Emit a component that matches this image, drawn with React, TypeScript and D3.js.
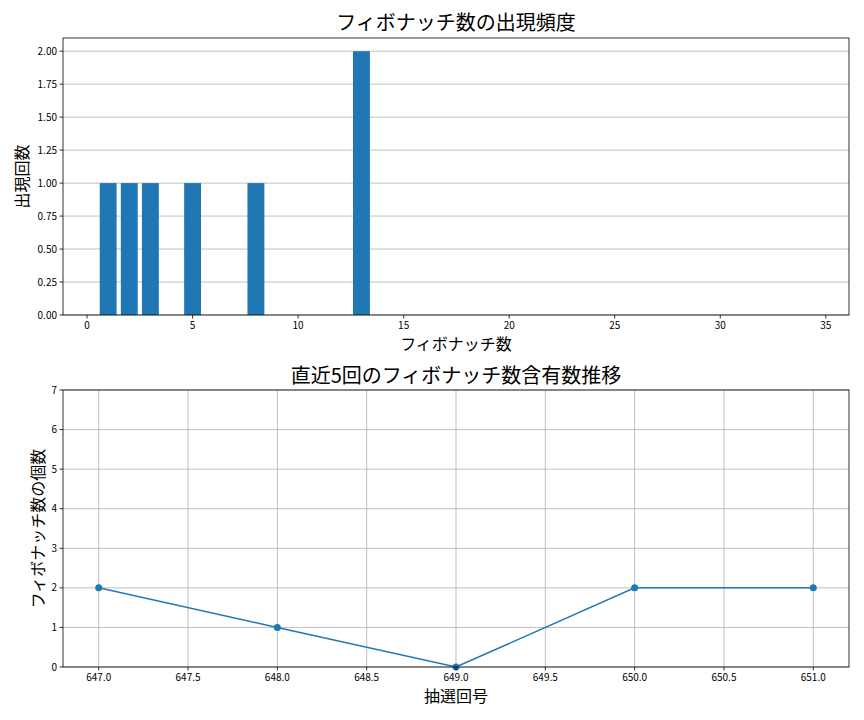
import * as d3 from "d3";

const fibNumbers = [1, 2, 3, 5, 8, 13, 21, 34];
const fibCounts = [1, 1, 1, 1, 1, 2, 0, 0];
const barTicksX = [0, 5, 10, 15, 20, 25, 30, 35];
const barTicksY = [0, 0.25, 0.5, 0.75, 1.0, 1.25, 1.5, 1.75, 2.0];

const rounds = [647, 648, 649, 650, 651];
const fibPerRound = [2, 1, 0, 2, 2];
const lineTicksX = [647.0, 647.5, 648.0, 648.5, 649.0, 649.5, 650.0, 650.5, 651.0];
const lineTicksY = [0, 1, 2, 3, 4, 5, 6, 7];

const FONT = "'Noto Sans CJK JP', 'Noto Sans', sans-serif";
const BLUE = "#1f77b4";
const GRID = "#b0b0b0";

const W = 864;
const H = 720;

const App = () => {
  const left = 63;
  const right = 849;

  // top chart
  const top1 = 38;
  const bottom1 = 315;
  const x1 = d3.scaleLinear().domain([-1.14, 36.1]).range([left, right]);
  const y1 = d3.scaleLinear().domain([0, 2.1]).range([bottom1, top1]);
  const barW = x1(0.8) - x1(0);

  // bottom chart
  const top2 = 390;
  const bottom2 = 667;
  const x2 = d3.scaleLinear().domain([646.8, 651.2]).range([left, right]);
  const y2 = d3.scaleLinear().domain([0, 7]).range([bottom2, top2]);
  const line = d3
    .line<number>()
    .x((_, i) => x2(rounds[i]))
    .y((d) => y2(d));

  return (
    <svg width={W} height={H} style={{ position: "absolute", left: 0, top: 0, background: "#fff" }} fontFamily={FONT}>
      <rect width={W} height={H} fill="#fff" />

      {/* top: bar chart */}
      {barTicksY.map((t) => (
        <line key={"g1" + t} x1={left} x2={right} y1={y1(t)} y2={y1(t)} stroke={GRID} strokeWidth={0.8} />
      ))}
      {fibNumbers.map((n, i) => (
        <rect
          key={"b" + n}
          x={x1(n) - barW / 2}
          y={y1(fibCounts[i])}
          width={barW}
          height={bottom1 - y1(fibCounts[i])}
          fill={BLUE}
        />
      ))}
      <rect x={left} y={top1} width={right - left} height={bottom1 - top1} fill="none" stroke="#000" strokeWidth={0.8} />
      {barTicksY.map((t) => (
        <g key={"ty1" + t}>
          <line x1={left - 3.5} x2={left} y1={y1(t)} y2={y1(t)} stroke="#000" strokeWidth={0.8} />
          <text x={left - 6} y={y1(t)} dy="0.35em" textAnchor="end" fontSize={10}>
            {t.toFixed(2)}
          </text>
        </g>
      ))}
      {barTicksX.map((t) => (
        <g key={"tx1" + t}>
          <line x1={x1(t)} x2={x1(t)} y1={bottom1} y2={bottom1 + 3.5} stroke="#000" strokeWidth={0.8} />
          <text x={x1(t)} y={bottom1 + 14} textAnchor="middle" fontSize={10}>
            {t}
          </text>
        </g>
      ))}
      <text x={(left + right) / 2} y={30} textAnchor="middle" fontSize={20}>
        フィボナッチ数の出現頻度
      </text>
      <text x={(left + right) / 2} y={350} textAnchor="middle" fontSize={16}>
        フィボナッチ数
      </text>
      <text transform={`translate(28,${(top1 + bottom1) / 2}) rotate(-90)`} textAnchor="middle" fontSize={16}>
        出現回数
      </text>

      {/* bottom: line chart */}
      {lineTicksY.map((t) => (
        <line key={"g2y" + t} x1={left} x2={right} y1={y2(t)} y2={y2(t)} stroke={GRID} strokeWidth={0.8} />
      ))}
      {lineTicksX.map((t) => (
        <line key={"g2x" + t} x1={x2(t)} x2={x2(t)} y1={top2} y2={bottom2} stroke={GRID} strokeWidth={0.8} />
      ))}
      <path d={line(fibPerRound) ?? ""} fill="none" stroke={BLUE} strokeWidth={1.5} />
      {fibPerRound.map((v, i) => (
        <circle key={"p" + i} cx={x2(rounds[i])} cy={y2(v)} r={3.5} fill={BLUE} />
      ))}
      <rect x={left} y={top2} width={right - left} height={bottom2 - top2} fill="none" stroke="#000" strokeWidth={0.8} />
      {lineTicksY.map((t) => (
        <g key={"ty2" + t}>
          <line x1={left - 3.5} x2={left} y1={y2(t)} y2={y2(t)} stroke="#000" strokeWidth={0.8} />
          <text x={left - 6} y={y2(t)} dy="0.35em" textAnchor="end" fontSize={10}>
            {t}
          </text>
        </g>
      ))}
      {lineTicksX.map((t) => (
        <g key={"tx2" + t}>
          <line x1={x2(t)} x2={x2(t)} y1={bottom2} y2={bottom2 + 3.5} stroke="#000" strokeWidth={0.8} />
          <text x={x2(t)} y={bottom2 + 14} textAnchor="middle" fontSize={10}>
            {t.toFixed(1)}
          </text>
        </g>
      ))}
      <text x={(left + right) / 2} y={383} textAnchor="middle" fontSize={20}>
        直近5回のフィボナッチ数含有数推移
      </text>
      <text x={(left + right) / 2} y={702} textAnchor="middle" fontSize={16}>
        抽選回号
      </text>
      <text transform={`translate(44,${(top2 + bottom2) / 2}) rotate(-90)`} textAnchor="middle" fontSize={16}>
        フィボナッチ数の個数
      </text>
    </svg>
  );
};

export default App;
